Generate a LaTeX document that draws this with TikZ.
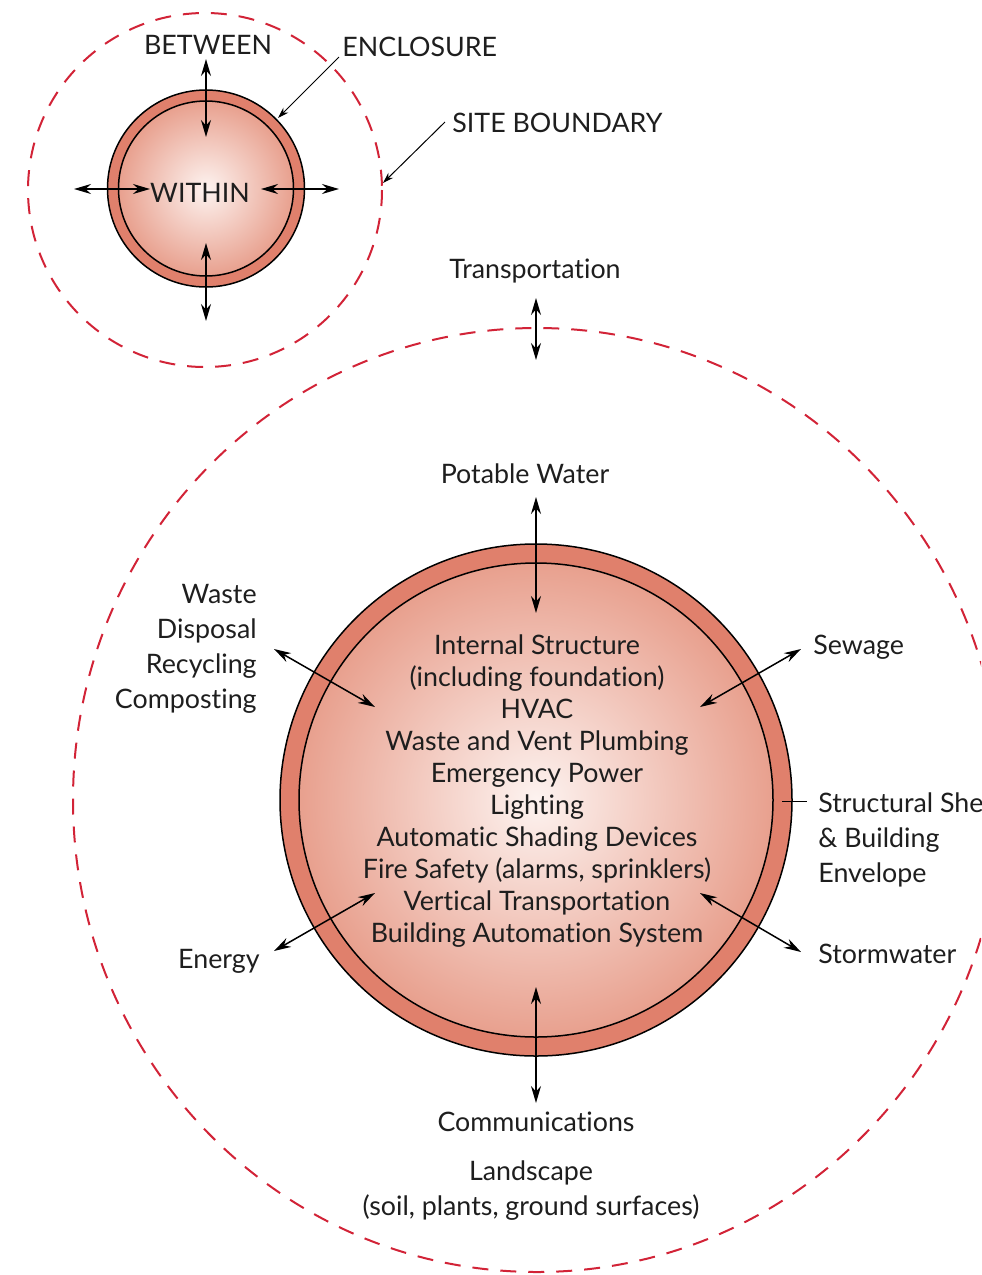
\documentclass[tikz,border=0pt]{standalone}
\usepackage{fontspec}
\setmainfont{Lato}[Ligatures=NoCommon]
\usetikzlibrary{arrows.meta}
\definecolor{ringc}{RGB}{224,128,108}
\definecolor{coreedge}{RGB}{232,160,142}
\definecolor{corecent}{RGB}{253,243,240}
\definecolor{sitered}{RGB}{210,35,55}
\definecolor{txt}{RGB}{30,30,30}
\begin{document}
\begin{tikzpicture}[x=0.5pt,y=-0.5pt,
  lbl/.style={font=\fontsize{13.4}{17.35}\selectfont, text=txt, inner sep=0pt},
  core/.style={font=\fontsize{13.4}{16}\selectfont, text=txt, inner sep=0pt},
  site/.style={draw=sitered, line width=1pt, dash pattern=on 8pt off 6pt},
  ring/.style={fill=ringc, draw=black, line width=0.75pt},
  inner/.style={draw=black, line width=0.75pt, inner color=corecent, outer color=coreedge},
  dbl/.style={{Stealth[length=8.5pt,width=5pt]}-{Stealth[length=8.5pt,width=5pt]}, line width=0.75pt},
  lead/.style={-{Stealth[length=5.5pt,width=3.5pt]}, line width=0.5pt}]
\useasboundingbox (0,0) rectangle (981,1275);
\clip (0,0) rectangle (981,1275);

% ---------- small diagram ----------
\draw[site] (205,190) circle [radius=177];
\draw[ring] (206,188.5) circle [radius=98.5];
\shade[inner] (206,188.5) circle [radius=87.5];

\node[lbl, anchor=base] (between) at (208,54) {BETWEEN};
\node[lbl, anchor=base west] (enclosure) at (342,56) {ENCLOSURE};
\node[lbl, anchor=base west] (siteb) at (452,132) {SITE BOUNDARY};
\node[lbl, anchor=base] (within) at (200,202) {WITHIN};

\coordinate (st1) at (206,59);  \coordinate (st2) at (206,137);
\coordinate (sb1) at (206,243); \coordinate (sb2) at (206,321);
\coordinate (sl1) at (74,189);  \coordinate (sl2) at (150,189);
\coordinate (sr1) at (261,189); \coordinate (sr2) at (339,189);
\draw[dbl] (st1) -- (st2);
\draw[dbl] (sb1) -- (sb2);
\draw[dbl] (sl1) -- (sl2);
\draw[dbl] (sr1) -- (sr2);

\coordinate (enc0) at (339,57);  \coordinate (enc1) at (278,118);
\coordinate (sit0) at (445,122); \coordinate (sit1) at (383,183);
\draw[lead] (enc0) -- (enc1);
\draw[lead] (sit0) -- (sit1);

% ---------- large diagram ----------
\draw[site] (537,800) ellipse [x radius=464, y radius=472];
\draw[ring] (536,800) circle [radius=256];
\shade[inner] (536,800) circle [radius=237];

\node[core, anchor=base, align=center] (corelist) at (537,942)
  {Internal Structure\\(including foundation)\\HVAC\\Waste and Vent Plumbing\\Emergency Power\\Lighting\\Automatic Shading Devices\\Fire Safety (alarms, sprinklers)\\Vertical Transportation\\Building Automation System};

\node[lbl, anchor=base] (transp) at (535,278) {Transportation};
\node[lbl, anchor=base] (potable) at (525,483) {Potable Water};
\node[lbl, anchor=base east, align=right] (waste) at (257,708) {Waste\\Disposal\\Recycling\\Composting};
\node[lbl, anchor=base west] (sewage) at (813,654) {Sewage};
\node[lbl, anchor=base west, align=left] (shell) at (818,882) {Structural Shell\\\& Building\\Envelope};
\node[lbl, anchor=base west] (storm) at (818,963) {Stormwater};
\node[lbl, anchor=base east] (energy) at (260,968) {Energy};
\node[lbl, anchor=base] (comm) at (536,1131) {Communications};
\node[lbl, anchor=base, align=center] (landsc) at (531,1215) {Landscape\\(soil, plants, ground surfaces)};

\coordinate (tr1) at (536,298);  \coordinate (tr2) at (536,360);
\coordinate (pw1) at (536,497);  \coordinate (pw2) at (536,613);
\coordinate (cm1) at (536,987);  \coordinate (cm2) at (536,1103);
\coordinate (ws1) at (274,649);  \coordinate (ws2) at (375,707);
\coordinate (sw1) at (801,649);  \coordinate (sw2) at (700,707);
\coordinate (sm1) at (700,893);  \coordinate (sm2) at (801,952);
\coordinate (en1) at (274,951);  \coordinate (en2) at (375,893);
\draw[dbl] (tr1) -- (tr2);
\draw[dbl] (pw1) -- (pw2);
\draw[dbl] (cm1) -- (cm2);
\draw[dbl] (ws1) -- (ws2);
\draw[dbl] (sw1) -- (sw2);
\draw[dbl] (sm1) -- (sm2);
\draw[dbl] (en1) -- (en2);

\coordinate (sh0) at (782,801); \coordinate (sh1) at (807,801);
\draw[line width=0.5pt] (sh0) -- (sh1);
\end{tikzpicture}
\end{document}
